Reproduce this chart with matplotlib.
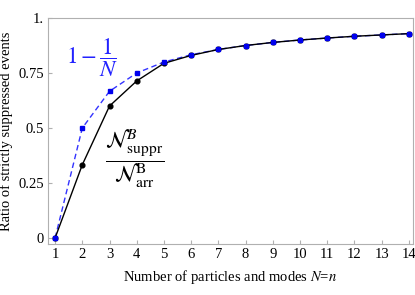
import matplotlib
matplotlib.use("Agg")
import matplotlib.pyplot as plt

plt.rcParams['font.family'] = ['Liberation Serif', 'DejaVu Serif']
plt.rcParams['mathtext.fontset'] = 'stix'

N = [1, 2, 3, 4, 5, 6, 7, 8, 9, 10, 11, 12, 13, 14]
ratio_suppr = [0.0, 0.333, 0.6, 0.714, 0.794, 0.83, 0.857, 0.875, 0.889, 0.9, 0.909, 0.917, 0.923, 0.929]
one_minus_inv = [0.0, 0.5, 0.667, 0.75, 0.8, 0.833, 0.857, 0.875, 0.889, 0.9, 0.909, 0.917, 0.923, 0.929]
yticks = [0, 0.25, 0.5, 0.75, 1.0]
yticklabels = ['0', '0.25', '0.5', '0.75', '1.']

fig = plt.figure(figsize=(4.15, 2.95), dpi=100)
ax = fig.add_axes([48/415, 1 - 244/295, (413-48)/415, (244-18)/295])

ax.plot(N, one_minus_inv, color='#3333ff', ls=(0, (4, 2.5)), lw=1.0, zorder=2)
ax.plot(N, ratio_suppr, color='black', lw=1.0, marker='o', ms=3.4, zorder=3)
ax.plot(N, one_minus_inv, color='#0000ee', ls='none', marker='s', ms=3.2, zorder=4)

ax.set_xlim(0.74, 14.15)
ax.set_ylim(-0.027, 1.0)
ax.set_xticks(N)
ax.set_yticks(yticks)
ax.set_yticklabels(yticklabels)
for s in ax.spines.values():
    s.set_color('#b0b0b0')
ax.tick_params(direction='in', length=3, color='#b0b0b0', labelsize=10.5, pad=3)

ax.set_xlabel('Number of particles and modes $N$=$n$', fontsize=10.5, labelpad=5)
ax.set_ylabel('Ratio of strictly suppressed events', fontsize=10.5, labelpad=4)

ax.text(2.36, 0.82, r'$1-\dfrac{1}{N}$', color='#2222ff', fontsize=16.5, ha='center', va='center')
ax.text(3.94, 0.36, r'$\dfrac{\mathcal{N}_{\mathrm{suppr}}^{B}}{\mathcal{N}_{\mathrm{arr}}^{\mathrm{B}}}$',
        color='black', fontsize=16, ha='center', va='center')

fig.savefig('out.png', dpi=100)
